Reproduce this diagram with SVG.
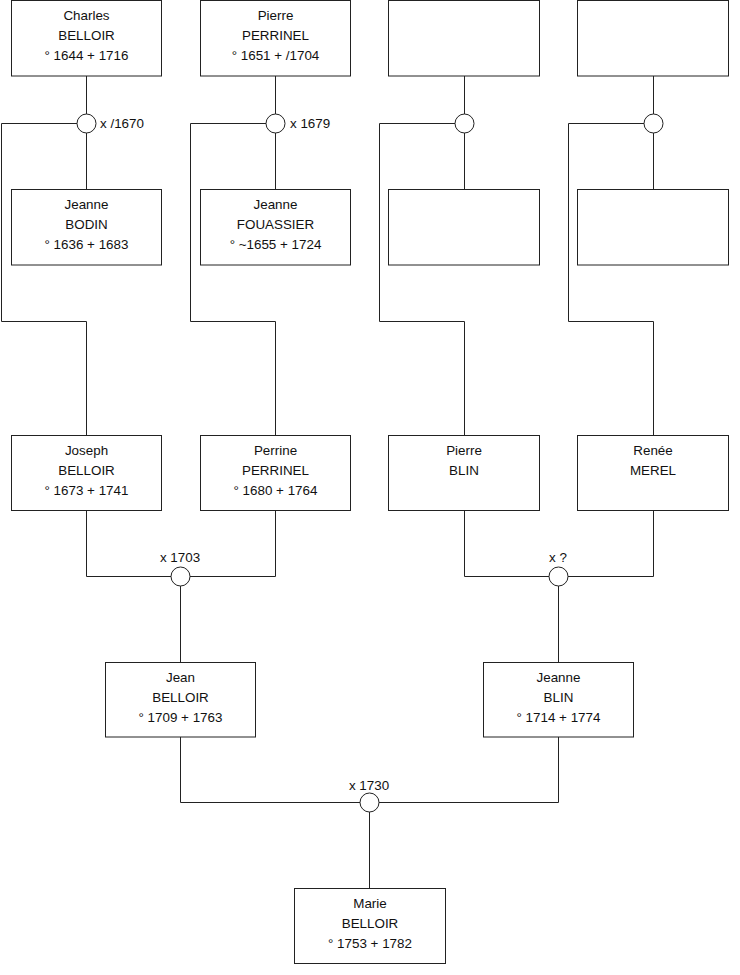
<svg xmlns="http://www.w3.org/2000/svg" width="740" height="975" viewBox="0 0 740 975">
<style>
.box{fill:#fff;stroke:#222;stroke-width:1}
.ln{fill:none;stroke:#222;stroke-width:1}
.ring{fill:#fff;stroke:#222;stroke-width:1}
text{font-family:"Liberation Sans",Arial,sans-serif;font-size:13.4px;fill:#111}
.c{text-anchor:middle}
</style>
<rect width="740" height="975" fill="#fff"/>
<g id="connectors">
<path class="ln" d="M86.5 76 V189.5"/>
<path class="ln" d="M275.5 76 V189.5"/>
<path class="ln" d="M464.5 76 V189.5"/>
<path class="ln" d="M653.5 76 V189.5"/>
<path class="ln" d="M86.5 123.5 H1.5 V321.5 H86.5 V435.5"/>
<path class="ln" d="M275.5 123.5 H190.5 V321.5 H275.5 V435.5"/>
<path class="ln" d="M464.5 123.5 H379.5 V321.5 H464.5 V435.5"/>
<path class="ln" d="M653.5 123.5 H568.5 V321.5 H653.5 V435.5"/>
<path class="ln" d="M86.5 510.5 V576.5 H275.5 V510.5"/>
<path class="ln" d="M180.5 576.5 V662.5"/>
<path class="ln" d="M464.5 510.5 V576.5 H653.5 V510.5"/>
<path class="ln" d="M558.5 576.5 V662.5"/>
<path class="ln" d="M180.5 737 V802.5 H558.5 V737"/>
<path class="ln" d="M369.5 802.5 V888.5"/>
<circle class="ring" cx="86.5" cy="123.5" r="9.5"/>
<circle class="ring" cx="275.5" cy="123.5" r="9.5"/>
<circle class="ring" cx="464.5" cy="123.5" r="9.5"/>
<circle class="ring" cx="653.5" cy="123.5" r="9.5"/>
<circle class="ring" cx="180.5" cy="576.5" r="9.5"/>
<circle class="ring" cx="558.5" cy="576.5" r="9.5"/>
<circle class="ring" cx="369.5" cy="802.5" r="9.5"/>
<text x="100" y="128">x /1670</text>
<text x="290" y="128">x 1679</text>
<text class="c" x="180" y="562">x 1703</text>
<text class="c" x="558" y="562">x ?</text>
<text class="c" x="369" y="790">x 1730</text>
</g>
<g id="charles">
<rect class="box" x="11.5" y="0.5" width="150" height="75.5"/>
<text class="c" x="86.5" y="20">Charles</text>
<text class="c" x="86.5" y="40">BELLOIR</text>
<text class="c" x="86.5" y="60">° 1644 + 1716</text>
</g>
<g id="pierre-perrinel">
<rect class="box" x="200.5" y="0.5" width="150" height="75.5"/>
<text class="c" x="275.5" y="20">Pierre</text>
<text class="c" x="275.5" y="40">PERRINEL</text>
<text class="c" x="275.5" y="60">° 1651 + /1704</text>
</g>
<g id="unknown1">
<rect class="box" x="388.5" y="0.5" width="151" height="75.5"/>
</g>
<g id="unknown2">
<rect class="box" x="577.5" y="0.5" width="151" height="75.5"/>
</g>
<g id="jeanne-bodin">
<rect class="box" x="11.5" y="189.5" width="150" height="75.5"/>
<text class="c" x="86.5" y="209">Jeanne</text>
<text class="c" x="86.5" y="229">BODIN</text>
<text class="c" x="86.5" y="249">° 1636 + 1683</text>
</g>
<g id="jeanne-fouassier">
<rect class="box" x="200.5" y="189.5" width="150" height="75.5"/>
<text class="c" x="275.5" y="209">Jeanne</text>
<text class="c" x="275.5" y="229">FOUASSIER</text>
<text class="c" x="275.5" y="249">° ~1655 + 1724</text>
</g>
<g id="unknown3">
<rect class="box" x="388.5" y="189.5" width="151" height="75.5"/>
</g>
<g id="unknown4">
<rect class="box" x="577.5" y="189.5" width="151" height="75.5"/>
</g>
<g id="joseph">
<rect class="box" x="11.5" y="435.5" width="150" height="75"/>
<text class="c" x="86.5" y="455">Joseph</text>
<text class="c" x="86.5" y="475">BELLOIR</text>
<text class="c" x="86.5" y="495">° 1673 + 1741</text>
</g>
<g id="perrine">
<rect class="box" x="200.5" y="435.5" width="150" height="75"/>
<text class="c" x="275.5" y="455">Perrine</text>
<text class="c" x="275.5" y="475">PERRINEL</text>
<text class="c" x="275.5" y="495">° 1680 + 1764</text>
</g>
<g id="pierre-blin">
<rect class="box" x="388.5" y="435.5" width="151" height="75"/>
<text class="c" x="464" y="455">Pierre</text>
<text class="c" x="464" y="475">BLIN</text>
</g>
<g id="renee">
<rect class="box" x="577.5" y="435.5" width="151" height="75"/>
<text class="c" x="653" y="455">Renée</text>
<text class="c" x="653" y="475">MEREL</text>
</g>
<g id="jean">
<rect class="box" x="105.5" y="662.5" width="150" height="74.5"/>
<text class="c" x="180.5" y="682">Jean</text>
<text class="c" x="180.5" y="702">BELLOIR</text>
<text class="c" x="180.5" y="722">° 1709 + 1763</text>
</g>
<g id="jeanne-blin">
<rect class="box" x="483.5" y="662.5" width="150" height="74.5"/>
<text class="c" x="558.5" y="682">Jeanne</text>
<text class="c" x="558.5" y="702">BLIN</text>
<text class="c" x="558.5" y="722">° 1714 + 1774</text>
</g>
<g id="marie">
<rect class="box" x="294.5" y="888.5" width="151" height="75"/>
<text class="c" x="370" y="908">Marie</text>
<text class="c" x="370" y="928">BELLOIR</text>
<text class="c" x="370" y="948">° 1753 + 1782</text>
</g>
</svg>
